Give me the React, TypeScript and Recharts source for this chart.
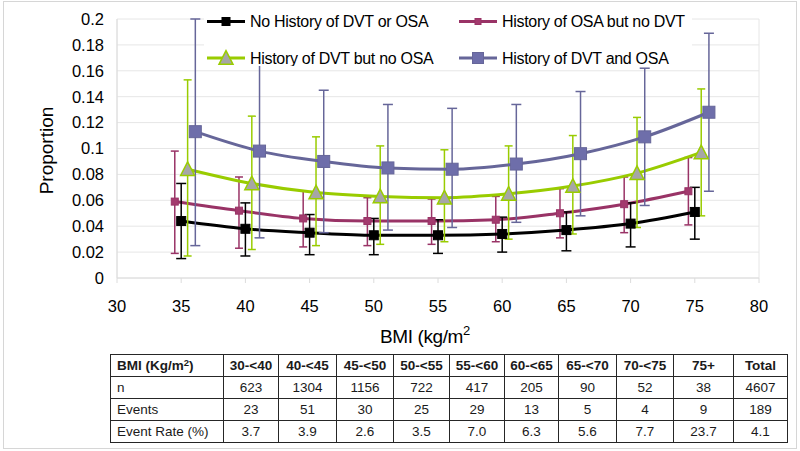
import React from 'react';
import { LineChart, Line, XAxis, YAxis, CartesianGrid, ErrorBar, Label } from 'recharts';

const bmiMid = [35, 40, 45, 50, 55, 60, 65, 70, 75];
const xTicks = [30, 35, 40, 45, 50, 55, 60, 65, 70, 75, 80];
const yTicks = [0, 0.02, 0.04, 0.06, 0.08, 0.1, 0.12, 0.14, 0.16, 0.18, 0.2];

// No History of DVT or OSA
const noHist = [0.044, 0.038, 0.035, 0.033, 0.033, 0.034, 0.037, 0.042, 0.051];
const noHistLo = [0.015, 0.017, 0.018, 0.018, 0.019, 0.02, 0.021, 0.024, 0.03];
const noHistHi = [0.073, 0.058, 0.049, 0.046, 0.045, 0.047, 0.051, 0.058, 0.07];

// History of OSA but no DVT
const osaOnly = [0.059, 0.052, 0.046, 0.044, 0.044, 0.045, 0.05, 0.057, 0.067];
const osaOnlyLo = [0.019, 0.023, 0.024, 0.025, 0.026, 0.028, 0.031, 0.035, 0.041];
const osaOnlyHi = [0.098, 0.078, 0.067, 0.062, 0.061, 0.063, 0.069, 0.078, 0.093];

// History of DVT but no OSA
const dvtOnly = [0.084, 0.073, 0.066, 0.063, 0.062, 0.065, 0.071, 0.081, 0.097];
const dvtOnlyLo = [0.017, 0.022, 0.025, 0.026, 0.028, 0.03, 0.034, 0.039, 0.048];
const dvtOnlyHi = [0.153, 0.125, 0.109, 0.102, 0.099, 0.102, 0.11, 0.124, 0.146];

// History of DVT and OSA
const both = [0.113, 0.098, 0.09, 0.085, 0.084, 0.088, 0.096, 0.109, 0.128];
const bothLo = [0.025, 0.031, 0.035, 0.037, 0.039, 0.043, 0.048, 0.056, 0.067];
const bothHi = [0.2, 0.165, 0.145, 0.134, 0.131, 0.134, 0.144, 0.162, 0.189];

// table
const groups = ['30-<40', '40-<45', '45-<50', '50-<55', '55-<60', '60-<65', '65-<70', '70-<75', '75+', 'Total'];
const nCounts = [623, 1304, 1156, 722, 417, 205, 90, 52, 38, 4607];
const eventCounts = [23, 51, 30, 25, 29, 13, 5, 4, 9, 189];
const eventRates = [3.7, 3.9, 2.6, 3.5, 7.0, 6.3, 5.6, 7.7, 23.7, 4.1];

const FONT = '"Liberation Sans", Arial, sans-serif';

const build = (vals: number[], lo: number[], hi: number[], shift: number) =>
  bmiMid.map((b, i) => ({ x: b + shift, y: vals[i], err: [vals[i] - lo[i], hi[i] - vals[i]] }));

type Shape = 'square' | 'triangle';

function Marker({ cx, cy, shape, size, fill, stroke }: { cx: number; cy: number; shape: Shape; size: number; fill: string; stroke: string }) {
  if (shape === 'triangle') {
    const h = size * 0.9;
    return (
      <polygon
        points={`${cx},${cy - h / 2 - 1} ${cx - size / 2},${cy + h / 2} ${cx + size / 2},${cy + h / 2}`}
        fill={fill}
        stroke={stroke}
        strokeWidth={1.5}
      />
    );
  }
  return <rect x={cx - size / 2} y={cy - size / 2} width={size} height={size} fill={fill} stroke={stroke} strokeWidth={1} />;
}

const series = [
  { name: 'History of OSA but no DVT', data: build(osaOnly, osaOnlyLo, osaOnlyHi, -0.5), color: '#993366', shape: 'square' as Shape, size: 7, fill: '#A33A6E', cap: 4 },
  { name: 'No History of DVT or OSA', data: build(noHist, noHistLo, noHistHi, 0), color: '#000000', shape: 'square' as Shape, size: 9, fill: '#000000', cap: 5 },
  { name: 'History of DVT but no OSA', data: build(dvtOnly, dvtOnlyLo, dvtOnlyHi, 0.5), color: '#99CC00', shape: 'triangle' as Shape, size: 14, fill: '#A6A6A6', cap: 4 },
  { name: 'History of DVT and OSA', data: build(both, bothLo, bothHi, 1.1), color: '#666699', shape: 'square' as Shape, size: 12, fill: '#6E6EAA', cap: 5 },
];

const legendOrder = [1, 0, 2, 3];

function LegendBox() {
  const cols = [0, 252];
  const rows = [19.5, 56];
  return (
    <svg width={488} height={64} style={{ position: 'absolute', left: 204, top: 2, background: '#fff' }}>
      {legendOrder.map((si, k) => {
        const s = series[si];
        const ox = cols[k % 2];
        const cy = rows[Math.floor(k / 2)];
        return (
          <g key={s.name}>
            <line x1={ox + 3} x2={ox + 41} y1={cy} y2={cy} stroke={s.color} strokeWidth={3} />
            <Marker cx={ox + 22} cy={cy} shape={s.shape} size={s.shape === 'square' ? Math.max(s.size - 1, 6) : s.size} fill={s.fill} stroke={s.color} />
            <text x={ox + 46} y={cy} dy="0.36em" fontSize={16} letterSpacing={-0.3} fontFamily={FONT} fill="#000">
              {s.name}
            </text>
          </g>
        );
      })}
    </svg>
  );
}

const colWidths = [113, 55, 58, 57, 56, 55, 54, 58, 57, 60, 54];

function StatsTable() {
  const cell: React.CSSProperties = { border: '1.5px solid #262626', padding: 0, textAlign: 'center', height: 21 };
  const first: React.CSSProperties = { ...cell, textAlign: 'left', paddingLeft: 6 };
  const rowsData = [
    { label: 'n', vals: nCounts.map(String) },
    { label: 'Events', vals: eventCounts.map(String) },
    { label: 'Event Rate (%)', vals: eventRates.map((v) => v.toFixed(1)) },
  ];
  return (
    <table
      style={{
        position: 'absolute', left: 110, top: 354, borderCollapse: 'collapse', tableLayout: 'fixed',
        width: colWidths.reduce((a, b) => a + b, 0), fontFamily: FONT, fontSize: 13.5, color: '#1a1a1a',
      }}
    >
      <colgroup>
        {colWidths.map((w, i) => <col key={i} style={{ width: w }} />)}
      </colgroup>
      <tbody>
        <tr>
          <td style={{ ...first, fontWeight: 'bold' }}>
            BMI (Kg/m<sup style={{ fontSize: 9.5, verticalAlign: 'top', lineHeight: 1 }}>2</sup>)
          </td>
          {groups.map((g) => <td key={g} style={{ ...cell, fontWeight: 'bold' }}>{g}</td>)}
        </tr>
        {rowsData.map((r) => (
          <tr key={r.label}>
            <td style={first}>{r.label}</td>
            {r.vals.map((v, i) => <td key={i} style={cell}>{v}</td>)}
          </tr>
        ))}
      </tbody>
    </table>
  );
}

export default function App() {
  const tick = { fill: '#000', fontSize: 16.5, fontFamily: FONT };
  return (
    <div style={{ position: 'absolute', left: 0, top: 0, width: 800, height: 451, background: '#fff' }}>
      <div style={{ position: 'absolute', left: 3, top: 1, width: 792, height: 446, border: '1px solid #d6d6d6' }} />
      <LineChart width={800} height={451} margin={{ top: 19, right: 41, left: 57, bottom: 143 }}>
        <CartesianGrid
          stroke="#e6e6e6"
          horizontalValues={yTicks}
          verticalCoordinatesGenerator={({ offset }: any) => [offset.left, offset.left + offset.width]}
        />
        <XAxis
          type="number"
          dataKey="x"
          domain={[30, 80]}
          ticks={xTicks}
          allowDuplicatedCategory={false}
          axisLine={{ stroke: '#dcdcdc' }}
          tickLine={{ stroke: '#dcdcdc' }}
          tickSize={5}
          tickMargin={17}
          height={30}
          tick={tick}
        >
          <Label
            content={({ viewBox }: any) => (
              <text x={viewBox.x + viewBox.width / 2 - 13} y={viewBox.y + 65} textAnchor="middle" fontSize={19} letterSpacing={-0.4} fontFamily={FONT} fill="#000">
                BMI (kg/m<tspan dy={-8} fontSize={13}>2</tspan>
              </text>
            )}
          />
        </XAxis>
        <YAxis
          type="number"
          domain={[0, 0.2]}
          ticks={yTicks}
          allowDataOverflow
          width={60}
          axisLine={{ stroke: '#dcdcdc' }}
          tickLine={false}
          tickSize={0}
          tickMargin={13}
          tick={tick}
          tickFormatter={(v: number) => String(v)}
        >
          <Label
            content={({ viewBox }: any) => {
              const cx = viewBox.x - 11;
              const cy = viewBox.y + viewBox.height / 2 + 2;
              return (
                <text x={cx} y={cy} transform={`rotate(-90 ${cx} ${cy})`} textAnchor="middle" dy="0.36em" fontSize={19} fontFamily={FONT} fill="#000">
                  Proportion
                </text>
              );
            }}
          />
        </YAxis>
        {series.map((s) => (
          <Line
            key={s.name}
            data={s.data}
            dataKey="y"
            name={s.name}
            type="monotone"
            stroke={s.color}
            strokeWidth={3}
            isAnimationActive={false}
            activeDot={false}
            dot={(p: any) => (
              <Marker key={`${s.name}-${p.index}`} cx={p.cx} cy={p.cy} shape={s.shape} size={s.size} fill={s.fill} stroke={s.color} />
            )}
          >
            <ErrorBar dataKey="err" direction="y" width={s.cap} stroke={s.color} strokeWidth={1.5} />
          </Line>
        ))}
      </LineChart>
      <LegendBox />
      <StatsTable />
    </div>
  );
}
